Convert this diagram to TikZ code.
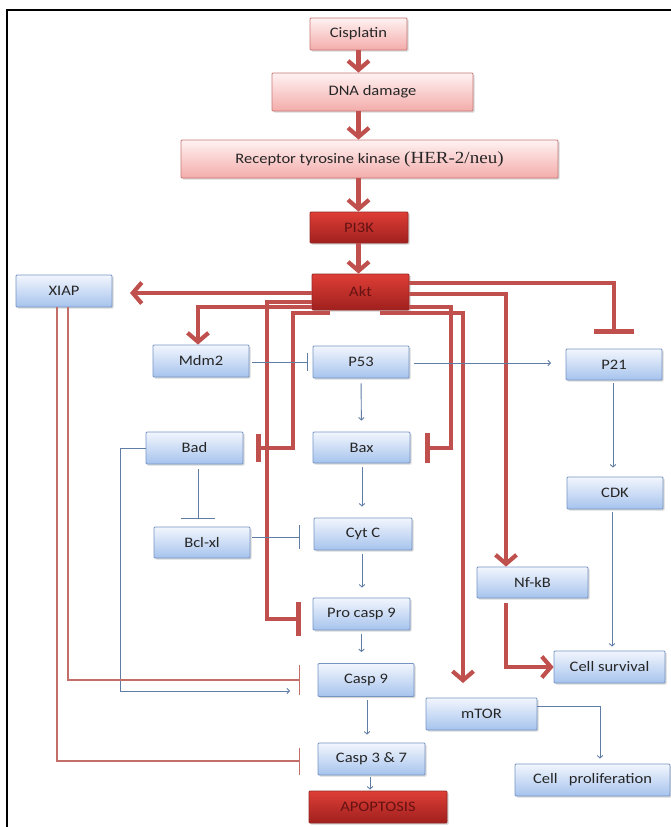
\documentclass[tikz,border=0pt]{standalone}
\usepackage{fontspec}
\setmainfont{Carlito}[FakeStretch=1.14]
\newfontfamily\serifx{Liberation Serif}[FakeStretch=1.12]
\usetikzlibrary{arrows.meta,shadows}

\definecolor{akred}{RGB}{192,80,77}
\definecolor{bluelink}{RGB}{95,125,165}
\definecolor{bxline}{RGB}{118,148,195}
\definecolor{bxtop}{RGB}{242,246,253}
\definecolor{bxbot}{RGB}{166,195,237}
\definecolor{pktop}{RGB}{255,242,242}
\definecolor{pkbot}{RGB}{243,172,170}
\definecolor{pkline}{RGB}{200,120,118}
\definecolor{drtop}{RGB}{222,62,54}
\definecolor{drbot}{RGB}{160,32,30}
\definecolor{drline}{RGB}{150,40,38}
\definecolor{drtext}{RGB}{100,18,18}
\definecolor{thinred}{RGB}{196,110,106}

\tikzset{
  sz/.style 2 args={minimum width=#1pt, minimum height=#2pt},
  box/.style={rectangle, rounded corners=1pt, inner sep=0pt, line width=0.8pt,
    font=\fontsize{14.5}{16}\selectfont, text=black!85},
  bluebox/.style={box, draw=bxline, top color=bxtop, bottom color=bxbot,
    drop shadow={shadow xshift=1.5pt, shadow yshift=-1.5pt, opacity=0.3}},
  pinkbox/.style={box, draw=pkline, top color=pktop, bottom color=pkbot,
    drop shadow={shadow xshift=1.5pt, shadow yshift=-1.5pt, opacity=0.3}},
  redbox/.style={box, draw=drline, top color=drtop, bottom color=drbot, text=drtext,
    drop shadow={shadow xshift=1.5pt, shadow yshift=-1.5pt, opacity=0.35}},
  redarr/.style={draw=akred, line width=4.2pt,
    -{Straight Barb[length=9pt, width=21pt, line width=4.2pt]}},
  redbar/.style={draw=akred, line width=4.2pt, -{Bar[width=#1pt, line width=5pt]}},
  bluearr/.style={draw=bluelink, line width=0.9pt,
    -{Straight Barb[length=2.5pt, width=5.5pt, line width=0.9pt]}},
  bluebar/.style={draw=bluelink, line width=0.9pt, -{Bar[width=#1pt, line width=1pt]}},
  redthin/.style={draw=thinred, line width=1.2pt, -{Bar[width=#1pt, line width=1.2pt]}},
}

\begin{document}
\begin{tikzpicture}[x=1pt, y=-1pt]
\useasboundingbox (0,0) rectangle (671,827);
\fill[white] (0,0) rectangle (671,827);

% outer frame (top and left edges)
\draw[line width=2.5pt] (7,827) -- (7,10) -- (671,10);

% upstream cascade
\node[pinkbox, sz={97}{32}]  (cis)  at (358.5,34)  {Cisplatin};
\node[pinkbox, sz={201}{38}] (dna)  at (372.5,92)  {DNA damage};
\node[pinkbox, sz={377}{38}] (rtk)  at (369.5,159) {Receptor tyrosine kinase {\serifx\fontsize{17}{18}\selectfont(HER-2/neu)}};
\node[redbox, sz={98}{31}]   (pi3k) at (359,227.5) {PI3K};
\node[redbox, sz={97}{36}]   (akt)  at (360.5,292) {Akt};

% targets
\node[bluebox, sz={96}{32}]  (xiap)  at (64,291)    {XIAP};
\node[bluebox, sz={96}{32}]  (mdm2)  at (201,361)   {Mdm2};
\node[bluebox, sz={96}{32}]  (p53)   at (361,362)   {P53};
\node[bluebox, sz={96}{31}]  (p21)   at (614,364.5) {P21};
\node[bluebox, sz={97}{32}]  (bad)   at (194.5,448) {Bad};
\node[bluebox, sz={97}{31}]  (bax)   at (361.5,447.5) {Bax};
\node[bluebox, sz={96}{32}]  (cdk)   at (615,493)   {CDK};
\node[bluebox, sz={96}{31}]  (bclxl) at (202,542.5) {Bcl-xl};
\node[bluebox, sz={98}{32}]  (cytc)  at (363,534)   {Cyt C};
\node[bluebox, sz={111}{31}] (nfkb)  at (532.5,582.5) {Nf-kB};
\node[bluebox, sz={97}{32}]  (pro9)  at (361.5,614) {Pro casp 9};
\node[bluebox, sz={111}{32}] (surv)  at (609.5,667) {Cell survival};
\node[bluebox, sz={96}{33}]  (casp9) at (366,680)   {Casp 9};
\node[bluebox, sz={111}{32}] (mtor)  at (481.5,714) {mTOR};
\node[bluebox, sz={107}{32}] (casp37) at (371.5,759) {Casp 3 \& 7};
\node[bluebox, sz={155}{32}] (prolif) at (592.5,780) {Cell~~~proliferation};
\node[redbox, sz={138}{32}]  (apop)  at (378,807)   {APOPTOSIS};

% free ends of the Akt connectors
\coordinate (xiapin) at (130,293);
\coordinate (mtorin) at (463,683);

% upstream arrows
\draw[redarr] (cis.south) -- (dna.north -| cis.south);
\draw[redarr] (dna.south -| cis.south) -- (rtk.north -| cis.south);
\draw[redarr] (rtk.south -| cis.south) -- (pi3k.north -| cis.south);
\draw[redarr] (pi3k.south -| cis.south) -- (akt.north -| cis.south);

% Akt outputs
\draw[redarr] (akt.west |- 0,293) -- (xiapin);
\draw[redbar=40] (akt.east |- 0,283) -| (p21.north |- 0,334);
\draw[redarr] (akt.east |- 0,294) -| (nfkb.north -| 506,0);
\draw[redbar=30] (akt.east |- 0,307) -| (451,448) -- (425,448);
\draw[redarr] (380,313) -| (mtorin);
\draw[redbar=34] (akt.west |- 0,302) -| (267,619) -- (301,619);
\draw[redarr] (akt.west |- 0,307) -| (mdm2.north -| 198,0);
\draw[redbar=28] (330,313) -| (293,448) -- (256,448);
\draw[redarr] (506,603) |- (surv.west);

% p53 axis
\draw[bluebar=18] (252,362) -- (308,362);
\draw[bluearr] (414,363) -- (551,363);
\draw[bluearr, shorten <=5pt, shorten >=11pt] (p53.south) -- (bax.north);
\draw[bluearr, shorten <=4pt, shorten >=11pt] (bax.south -| 362,0) -- (cytc.north -| 362,0);
\draw[bluearr, shorten <=4pt, shorten >=10pt] (cytc.south -| 362,0) -- (pro9.north -| 362,0);
\draw[bluearr, shorten <=4pt, shorten >=11pt] (pro9.south) -- (casp9.north -| 361.5,0);
\draw[bluearr, shorten <=3pt, shorten >=8pt] (casp9.south -| 367,0) -- (casp37.north -| 367,0);
\draw[bluearr, shorten <=2pt, shorten >=1pt] (casp37.south -| 370,0) -- (apop.north -| 370,0);

% right branch
\draw[bluearr, shorten <=3pt, shorten >=9pt] (p21.south -| 613,0) -- (cdk.north -| 613,0);
\draw[bluearr, shorten <=3pt, shorten >=4pt] (cdk.south -| 612,0) -- (surv.north -| 612,0);
\draw[bluearr, shorten >=5pt] (mtor.east |- 0,706) -| (prolif.north -| 600,0);

% Bad / Bcl-xl
\draw[bluebar=34] (198,469) -- (198,519);
\draw[bluebar=24] (252,537) -- (300,537);
\draw[bluearr] (bad.west) -- (120,448) |- (290,691);

% XIAP
\draw[redthin=30] (xiap.south -| 68,0) |- (300,680);
\draw[redthin=27] (xiap.south -| 57,0) |- (300,761);
\end{tikzpicture}
\end{document}
